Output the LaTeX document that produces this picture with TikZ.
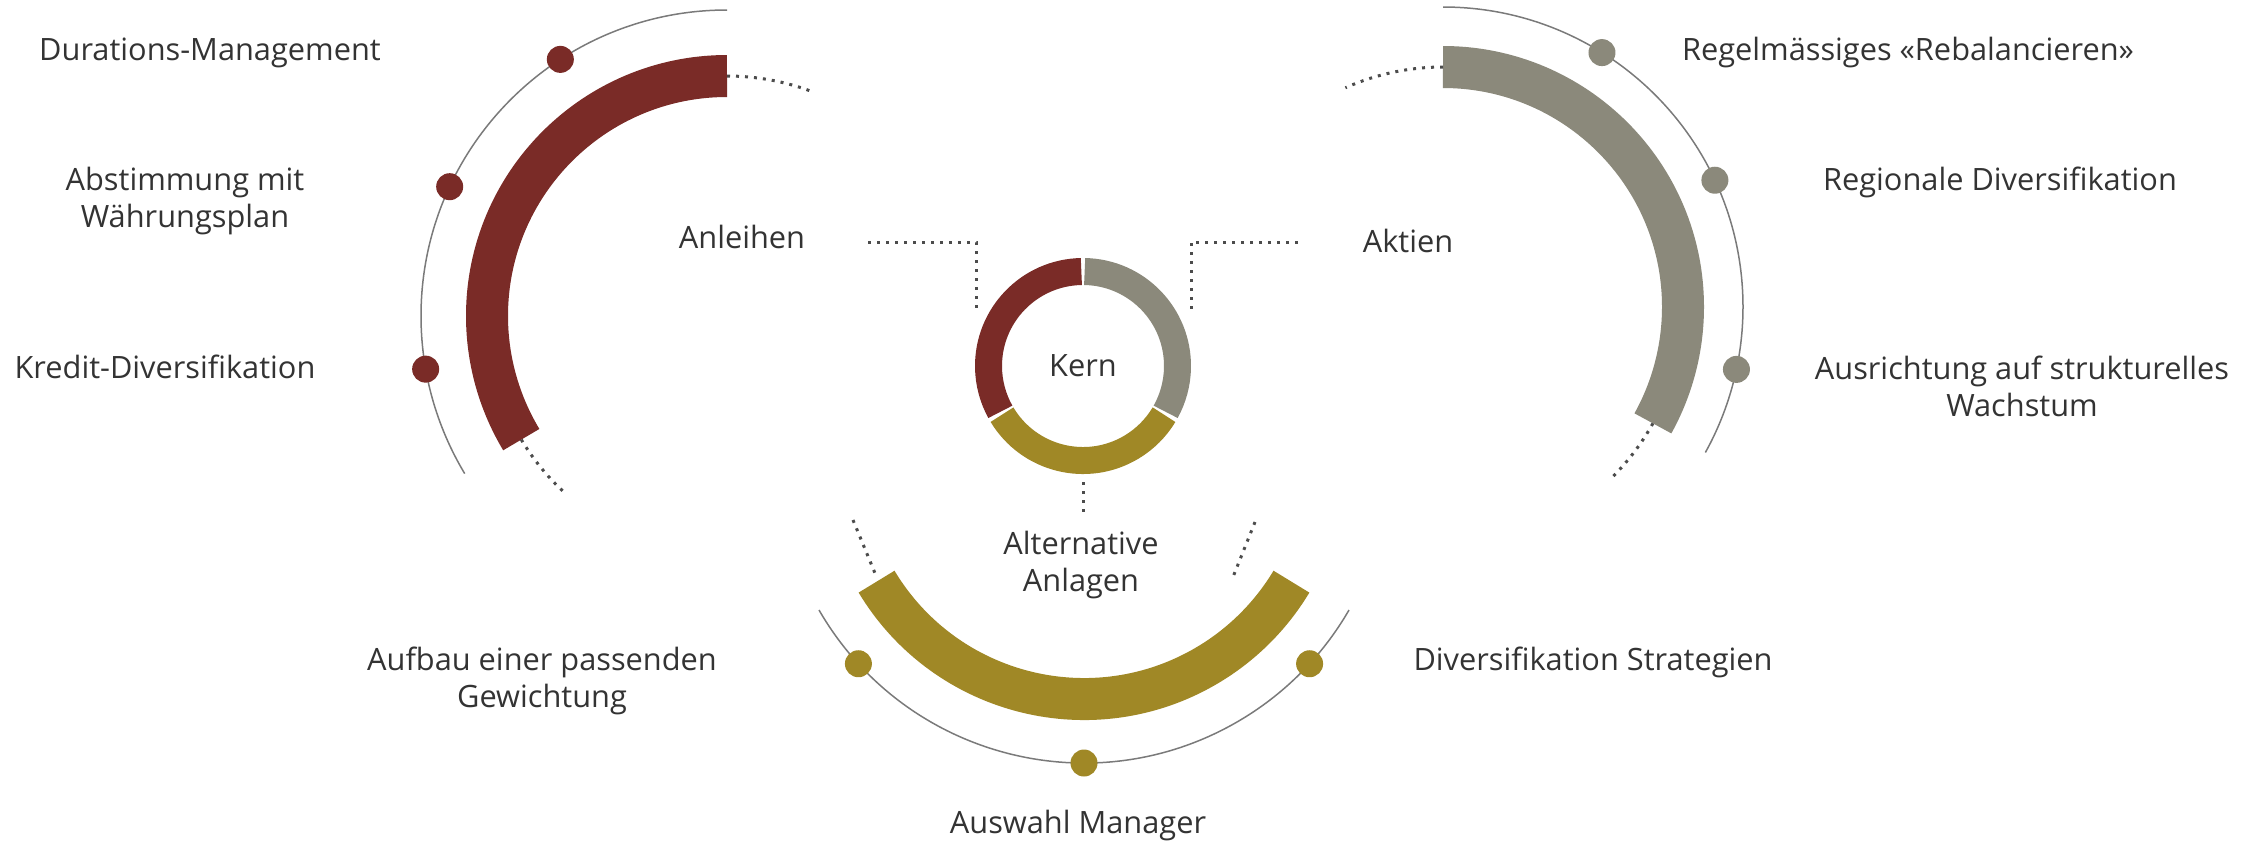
\documentclass[tikz,border=0pt]{standalone}
\usepackage{fontspec}
\setmainfont{Open Sans}
\usetikzlibrary{positioning}
\definecolor{bondred}{HTML}{7A2B27}
\definecolor{stockgray}{HTML}{8B897B}
\definecolor{altgold}{HTML}{A08826}
\definecolor{linegray}{HTML}{7A7A7A}
\definecolor{txtgray}{HTML}{333333}

\begin{document}
\begin{tikzpicture}[x=0.1mm,y=0.1mm,
  band/.style={line width=4.2mm},
  ringseg/.style={line width=2.7mm},
  thinarc/.style={linegray,line width=0.15mm},
  dotline/.style={black!70,line width=0.3mm,dash pattern=on 0.3mm off 0.6mm},
  lbl/.style={txtgray,font=\fontsize{8.75}{10.6}\selectfont,align=center,inner sep=0pt},
  bead/.style={circle,inner sep=0pt,minimum size=2.7mm}]
\useasboundingbox (0,0) rectangle (2246,-844);

% centres
\coordinate (cL) at (727,-316);
\coordinate (cR) at (1443,-307);
\coordinate (cB) at (1084,-457);
\coordinate (cK) at (1083,-366);

% Anleihen
\draw[thinarc] (cL) ++(90:30.6mm) arc[start angle=90,end angle=211,radius=30.6mm];
\draw[band,bondred] (cL) ++(90:24mm) arc[start angle=90,end angle=211,radius=24mm];
\draw[dotline] (cL) ++(90:24mm) arc[start angle=90,end angle=69,radius=24mm];
\draw[dotline] (cL) ++(211:24mm) arc[start angle=211,end angle=227,radius=24mm];
\node[bead,fill=bondred] (bL1) at ([shift={(123:30.6mm)}]cL) {};
\node[bead,fill=bondred] (bL2) at ([shift={(155:30.6mm)}]cL) {};
\node[bead,fill=bondred] (bL3) at ([shift={(190:30.6mm)}]cL) {};

% Aktien
\draw[thinarc] (cR) ++(90:30mm) arc[start angle=90,end angle=-29,radius=30mm];
\draw[band,stockgray] (cR) ++(90:24mm) arc[start angle=90,end angle=-29,radius=24mm];
\draw[dotline] (cR) ++(90:24mm) arc[start angle=90,end angle=114,radius=24mm];
\draw[dotline] (cR) ++(-29:24mm) arc[start angle=-29,end angle=-46,radius=24mm];
\node[bead,fill=stockgray] (bR1) at ([shift={(58:30mm)}]cR) {};
\node[bead,fill=stockgray] (bR2) at ([shift={(25:30mm)}]cR) {};
\node[bead,fill=stockgray] (bR3) at ([shift={(-12:30mm)}]cR) {};

% Alternative Anlagen
\draw[thinarc] (cB) ++(210:30.6mm) arc[start angle=210,end angle=330,radius=30.6mm];
\draw[band,altgold] (cB) ++(211:24.2mm) arc[start angle=211,end angle=329,radius=24.2mm];
\node[bead,fill=altgold] (bB1) at ([shift={(222.5:30.6mm)}]cB) {};
\node[bead,fill=altgold] (bB2) at ([shift={(270:30.6mm)}]cB) {};
\node[bead,fill=altgold] (bB3) at ([shift={(317.5:30.6mm)}]cB) {};
\coordinate (bdA) at (853,-520);
\coordinate (bdB) at (877,-578);
\coordinate (bdC) at (1255,-522);
\coordinate (bdD) at (1233,-577);
\draw[dotline] (bdA) -- (bdB);
\draw[dotline] (bdC) -- (bdD);

% Kern
\draw[ringseg,bondred] (cK) ++(91:9.45mm) arc[start angle=91,end angle=209,radius=9.45mm];
\draw[ringseg,stockgray] (cK) ++(89:9.45mm) arc[start angle=89,end angle=-29,radius=9.45mm];
\draw[ringseg,altgold] (cK) ++(211:9.45mm) arc[start angle=211,end angle=329,radius=9.45mm];
\node[lbl] (kern) at (cK) {Kern};

% connectors to the core
\coordinate (anlA) at (868,-242);
\coordinate (anlB) at (976,-310);
\coordinate (aktA) at (1298,-242);
\coordinate (aktB) at (1191,-310);
\coordinate (altA) at (1083,-482);
\coordinate (altB) at (1083,-512);
\draw[dotline] (anlA) -| (anlB);
\draw[dotline] (aktA) -| (aktB);
\draw[dotline] (altA) -- (altB);

% labels
\node[lbl] (anl) at (742,-237) {Anleihen};
\node[lbl] (akt) at (1408,-241) {Aktien};
\node[lbl] (alt) at (1081,-565) {Alternative\\Anlagen};

\node[lbl] (dur) at (210,-53) {Durations-Management};
\node[lbl] (abst) at (185,-201) {Abstimmung mit\\Währungsplan};
\node[lbl] (kred) at (165,-367) {Kredit-Diversifikation};

\node[lbl] (rebal) at (1908,-53) {Regelmässiges «Rebalancieren»};
\node[lbl] (regio) at (2000,-182) {Regionale Diversifikation};
\node[lbl] (struk) at (2022,-386) {Ausrichtung auf strukturelles\\Wachstum};

\node[lbl] (aufb) at (542,-681) {Aufbau einer passenden\\Gewichtung};
\node[lbl] (divs) at (1593,-662) {Diversifikation Strategien};
\node[lbl] (ausw) at (1078,-825) {Auswahl Manager};
\end{tikzpicture}
\end{document}
